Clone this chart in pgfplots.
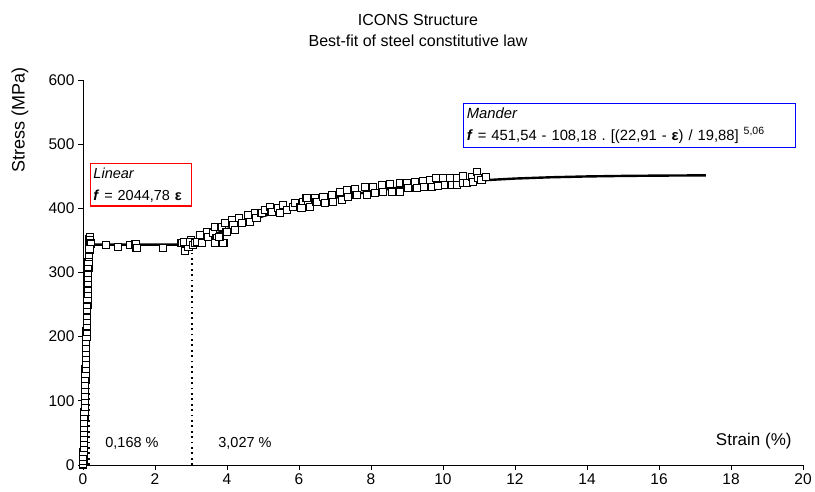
\documentclass[border=0pt]{standalone}
\usepackage{fontspec}
\setmainfont{Liberation Sans}
\usepackage{pgfplots}
\usepackage{pgfplotstable}
\pgfplotsset{compat=1.18}
\definecolor{boxblue}{RGB}{0,0,255}
\definecolor{boxred}{RGB}{255,0,0}
\pgfplotstableread{
e s
0 0
0.005 2
0.01 6
0.012 12
0.015 20
0.02 27
0.022 35
0.025 42
0.03 50
0.032 58
0.036 66
0.04 75
0.043 83
0.047 91
0.05 100
0.054 108
0.058 117
0.062 125
0.066 134
0.07 142
0.073 150
0.077 158
0.081 167
0.085 175
0.089 183
0.093 192
0.097 200
0.101 208
0.105 216
0.109 225
0.113 233
0.117 241
0.121 250
0.125 258
0.129 266
0.133 275
0.137 283
0.141 291
0.145 300
0.149 308
0.153 316
0.157 324
0.161 332
0.165 338
0.17 344
0.175 348
0.18 352
0.19 355
0.2 350
0.21 345
0.16 328
0.18 336
0.63 342.8
0.98 340.2
1.31 342.8
1.46 344.4
1.49 337.7
2.22 337.7
2.74 346.4
2.83 333.5
2.93 340.2
3.00 350.6
2.81 348.0
2.97 348.0
3.06 342.8
3.11 345.5
3.16 348.0
3.25 358.4
3.30 345.5
3.44 363.6
3.48 355.8
3.62 361.1
3.67 371.4
3.71 353.3
3.67 345.5
3.90 345.5
3.79 354.8
3.85 371.4
3.94 376.6
3.99 363.6
4.13 381.8
4.18 374.0
4.22 366.2
4.34 384.4
4.41 376.6
4.59 389.6
4.64 379.2
4.78 392.2
4.82 384.4
4.96 392.2
5.06 397.4
5.19 402.5
5.24 394.7
5.43 400.0
5.47 392.2
5.56 405.2
5.66 397.4
5.84 402.5
5.89 408.8
6.03 402.5
6.12 410.3
6.26 405.2
6.21 416.0
6.07 400.0
6.31 402.5
6.44 416.0
6.49 410.3
6.68 418.1
6.72 407.8
6.91 420.8
6.95 410.3
7.14 425.9
7.19 413.0
7.33 428.5
7.37 418.1
7.56 429.6
7.60 420.8
7.83 432.7
7.88 420.8
8.06 433.7
8.11 423.4
8.30 436.3
8.34 425.9
8.53 437.9
8.58 425.9
8.81 439.0
8.81 425.9
8.99 440.0
9.04 431.2
9.22 441.5
9.27 431.2
9.45 443.1
9.47 433.7
9.64 444.1
9.69 432.7
9.82 446.8
9.87 434.8
10.01 446.8
10.06 436.3
10.19 446.8
10.24 436.3
10.38 446.8
10.38 436.3
10.55 450.4
10.56 439.0
10.66 439.0
10.80 449.3
10.84 441.5
10.95 457.1
10.98 446.8
11.07 444.1
11.19 449.3
}\testdata
\pgfplotstableread{
e s
0 0
0.168 343.5
3.027 343.4
3.5 355.7
4 367.6
4.5 378.2
5 387.7
5.5 396.3
6 403.8
6.5 410.6
7 416.5
7.5 421.7
8 426.3
8.5 430.3
9 433.8
9.5 436.8
10 439.4
10.5 441.6
11 443.4
12 446.4
13 448.4
14 449.7
15 450.5
16 451.0
17.3 451.4
}\fitdata
\begin{document}
\begin{tikzpicture}[x=1pt,y=1pt]
\path[use as bounding box] (0,0) rectangle (815,492);
\begin{axis}[
  at={(83pt,27pt)}, anchor=south west,
  width=720pt, height=385pt, scale only axis,
  xmin=0, xmax=20, ymin=0, ymax=600,
  axis x line*=bottom, axis y line*=left,
  xtick={0,2,...,20}, ytick={0,100,...,600},
  tick align=outside, major tick length=5pt,
  tick style={black, line width=0.8pt},
  axis line style={black, line width=0.8pt},
  ticklabel style={font=\fontsize{15.5}{18}\selectfont},
  /pgf/number format/assume math mode=true,
  clip=false,
]
\addplot[black, line width=1.8pt, dash pattern=on 1.8pt off 3.6pt] coordinates {(3.027,0) (3.027,343)};
\addplot[black, line width=1.8pt, dash pattern=on 1.8pt off 3.6pt] coordinates {(0.168,0) (0.168,343)};
\addplot[black, line width=2.4pt] table[x=e, y=s] {\fitdata};
\addplot[only marks, mark=square*, mark size=3.6pt, mark options={fill=white, draw=black, line width=1.1pt}] table[x=e, y=s] {\testdata};
\node[font=\fontsize{14.5}{17}\selectfont] at (axis cs:1.36,34) {0,168 \%};
\node[font=\fontsize{14.5}{17}\selectfont] at (axis cs:4.5,34) {3,027 \%};
\node[anchor=east, font=\fontsize{17}{20}\selectfont] at (axis cs:19.78,38) {Strain (\%)};
\node[draw=boxred, line width=1.3pt, anchor=north west, align=left, inner xsep=3pt, inner ysep=4pt, text width=95pt, font=\fontsize{14.5}{22}\selectfont] at (axis cs:0.19,470.6) {\textit{Linear}\\\textbf{\textit{f}} = 2044,78 \textbf{ε}};
\node[draw=boxblue, line width=1.3pt, anchor=north west, align=left, inner xsep=3pt, inner ysep=4pt, text width=326pt, font=\fontsize{14.8}{22}\selectfont] at (axis cs:10.56,564) {\textit{Mander}\\\textbf{\textit{f}} = 451,54 - 108,18\ .\ [(22,91 - \textbf{ε}) / 19,88] \raisebox{0.7ex}{\fontsize{10.5}{12}\selectfont 5,06}};
\end{axis}
\node[font=\fontsize{16}{19}\selectfont] at (418,472) {ICONS Structure};
\node[font=\fontsize{16}{19}\selectfont] at (418,451) {Best-fit of steel constitutive law};
\node[rotate=90, font=\fontsize{18}{20}\selectfont] at (20,372) {Stress (MPa)};
\end{tikzpicture}
\end{document}
